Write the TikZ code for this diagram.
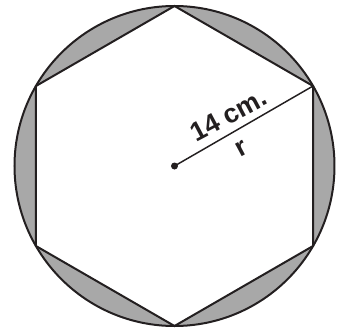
\documentclass[tikz,border=0pt]{standalone}
\usetikzlibrary{calc}
\usepackage{fontspec}
\setmainfont{Liberation Sans}
\definecolor{segfill}{HTML}{A8A8A8}
\definecolor{edge}{HTML}{231F20}
\begin{document}
\begin{tikzpicture}[x=0.75pt,y=-0.75pt,
  outline/.style={draw=edge,line width=1.5pt},
  lbl/.style={font=\fontsize{20}{23}\selectfont\bfseries,text=edge,inner sep=0pt}]
\useasboundingbox (0,0) rectangle (344,329);
\coordinate (O) at (174.5,166);
\def\R{160}
\fill[segfill] (O) circle[radius=\R];
\foreach \a/\n in {90/a,30/b,-30/c,-90/d,-150/e,150/f}
  \coordinate (\n) at ($(O)+(\a:{\R} and {-\R})$);
\filldraw[fill=white,outline,line join=miter] (a)--(b)--(c)--(d)--(e)--(f)--cycle;
\draw[outline] (O) circle[radius=\R];
\draw[edge,line width=1.1pt] (O) -- (b);
\fill[edge] (O) circle[radius=3.5];
\node[lbl,rotate=28] (t) at ($(O)+(54,-51)$) {14 cm.};
\node[lbl,rotate=28] (r) at ($(O)+(67,-17)$) {r};
\end{tikzpicture}
\end{document}
